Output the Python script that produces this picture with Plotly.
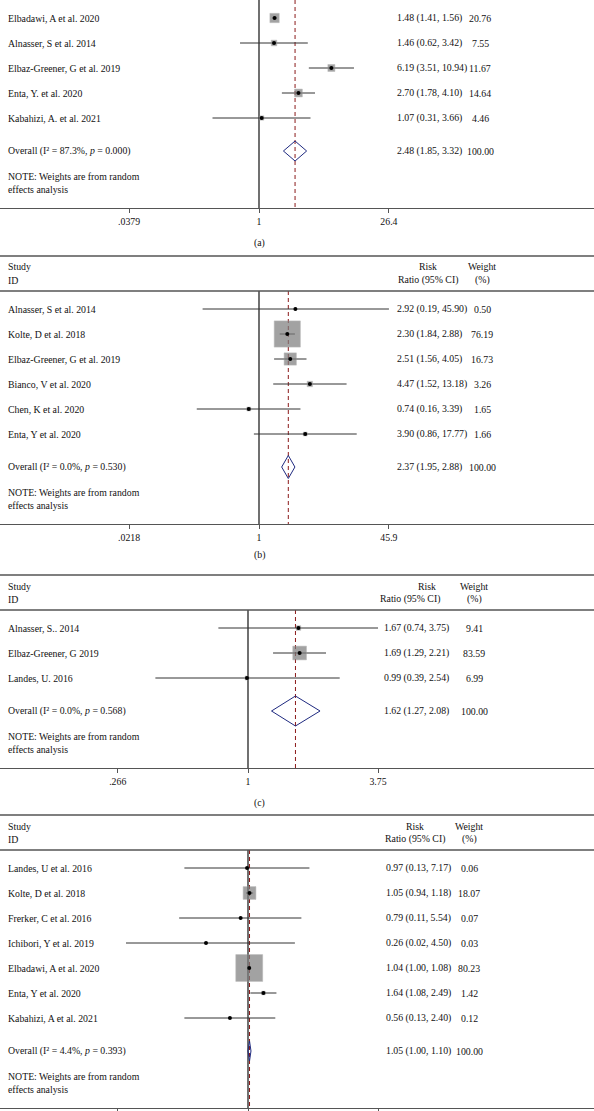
import math
import plotly.graph_objects as go

# ---------------- data ----------------
studies_a = ["Elbadawi, A et al. 2020", "Alnasser, S et al. 2014", "Elbaz-Greener, G et al. 2019",
             "Enta, Y. et al. 2020", "Kabahizi, A. et al. 2021"]
rr_a = [1.48, 1.46, 6.19, 2.70, 1.07]
lo_a = [1.41, 0.62, 3.51, 1.78, 0.31]
hi_a = [1.56, 3.42, 10.94, 4.10, 3.66]
w_a = [20.76, 7.55, 11.67, 14.64, 4.46]
overall_a = [2.48, 1.85, 3.32]
stats_a = ["87.3%", "0.000"]
ticks_a = [0.0379, 1, 26.4]
ticktext_a = [".0379", "1", "26.4"]

studies_b = ["Alnasser, S et al. 2014", "Kolte, D et al. 2018", "Elbaz-Greener, G et al. 2019",
             "Bianco, V et al. 2020", "Chen, K et al. 2020", "Enta, Y et al. 2020"]
rr_b = [2.92, 2.30, 2.51, 4.47, 0.74, 3.90]
lo_b = [0.19, 1.84, 1.56, 1.52, 0.16, 0.86]
hi_b = [45.90, 2.88, 4.05, 13.18, 3.39, 17.77]
w_b = [0.50, 76.19, 16.73, 3.26, 1.65, 1.66]
overall_b = [2.37, 1.95, 2.88]
stats_b = ["0.0%", "0.530"]
ticks_b = [0.0218, 1, 45.9]
ticktext_b = [".0218", "1", "45.9"]

studies_c = ["Alnasser, S.. 2014", "Elbaz-Greener, G 2019", "Landes, U. 2016"]
rr_c = [1.67, 1.69, 0.99]
lo_c = [0.74, 1.29, 0.39]
hi_c = [3.75, 2.21, 2.54]
w_c = [9.41, 83.59, 6.99]
overall_c = [1.62, 1.27, 2.08]
stats_c = ["0.0%", "0.568"]
ticks_c = [0.266, 1, 3.75]
ticktext_c = [".266", "1", "3.75"]

studies_d = ["Landes, U et al. 2016", "Kolte, D et al. 2018", "Frerker, C et al. 2016",
             "Ichibori, Y et al. 2019", "Elbadawi, A et al. 2020", "Enta, Y et al. 2020",
             "Kabahizi, A et al. 2021"]
rr_d = [0.97, 1.05, 0.79, 0.26, 1.04, 1.64, 0.56]
lo_d = [0.13, 0.94, 0.11, 0.02, 1.00, 1.08, 0.13]
hi_d = [7.17, 1.18, 5.54, 4.50, 1.08, 2.49, 2.40]
w_d = [0.06, 18.07, 0.07, 0.03, 80.23, 1.42, 0.12]
overall_d = [1.05, 1.00, 1.10]
stats_d = ["4.4%", "0.393"]
ticks_d = [0.015, 1, 66.7]
ticktext_d = [".015", "1", "66.7"]

captions = ["(a)", "(b)", "(c)", None]
note_lines = ["NOTE: Weights are from random", "effects analysis"]

panels = [
    dict(st=studies_a, rr=rr_a, lo=lo_a, hi=hi_a, w=w_a, ov=overall_a, stats=stats_a, tv=ticks_a, tt=ticktext_a),
    dict(st=studies_b, rr=rr_b, lo=lo_b, hi=hi_b, w=w_b, ov=overall_b, stats=stats_b, tv=ticks_b, tt=ticktext_b),
    dict(st=studies_c, rr=rr_c, lo=lo_c, hi=hi_c, w=w_c, ov=overall_c, stats=stats_c, tv=ticks_c, tt=ticktext_c),
    dict(st=studies_d, rr=rr_d, lo=lo_d, hi=hi_d, w=w_d, ov=overall_d, stats=stats_d, tv=ticks_d, tt=ticktext_d),
]

# ---------------- style / geometry ----------------
W, H = 594, 1111
ROW = 25
FONT = "Liberation Serif"
FS = 9.8
TXT = "#111111"
LINE = "#555555"
geo = [
    dict(first=18, x1=259, ppd=91.4, rr_x=395, w_x=480, risk_x=428, ratio_x=428, header=False, cap=243, box=2.05, dh=0.40, labels=True),
    dict(first=309, x1=259, ppd=78.2, rr_x=395, w_x=482, risk_x=428, ratio_x=428, header=True, cap=555, box=3.0, dh=0.46, labels=True),
    dict(first=628, x1=248, ppd=226.5, rr_x=382, w_x=474, risk_x=427, ratio_x=410, header=True, cap=803, box=1.5, dh=0.60, labels=True),
    dict(first=868, x1=248, ppd=71.8, rr_x=384, w_x=469, risk_x=415, ratio_x=415, header=True, cap=None, box=3.0, dh=0.40, labels=False),
]

fig = go.Figure()
annotations = []
shapes = []


def py(px):
    return 1 - px / H


def text(x_px, y, s, anchor="left", yref="paper"):
    annotations.append(dict(x=x_px / W, xref="paper", y=y, yref=yref, text=s, showarrow=False,
                            xanchor=anchor, yanchor="middle",
                            font=dict(family=FONT, size=FS, color=TXT)))


for k, (p, g) in enumerate(zip(panels, geo), start=1):
    xa = "x" if k == 1 else f"x{k}"
    ya = "y" if k == 1 else f"y{k}"
    n = len(p["st"])
    first = g["first"]
    axis_px = first + ROW * (n - 1) + 90
    hb = first - 18
    top_px = max(hb, 0)
    y_top = (top_px - first) / ROW
    y_bot = (axis_px - first) / ROW
    ov_row = (n - 1) + 1.32

    # axes
    fig.layout[("xaxis" if k == 1 else f"xaxis{k}")] = dict(
        type="log", domain=[0, 1], anchor=ya,
        range=[-g["x1"] / g["ppd"], (W - g["x1"]) / g["ppd"]],
        showline=True, linecolor=LINE, linewidth=1.3, ticks="outside", ticklen=4,
        tickcolor=LINE, tickwidth=1, tickvals=p["tv"], ticktext=p["tt"],
        showticklabels=g["labels"],
        tickfont=dict(family=FONT, size=FS, color=TXT), showgrid=False, zeroline=False,
        fixedrange=True)
    fig.layout[("yaxis" if k == 1 else f"yaxis{k}")] = dict(
        domain=[py(axis_px), py(top_px)], range=[y_bot, y_top], anchor=xa,
        visible=False, fixedrange=True)

    tmin, tmax = p["tv"][0], p["tv"][-1]

    # no-effect line
    fig.add_trace(go.Scatter(x=[1, 1], y=[y_top, y_bot], mode="lines", xaxis=xa, yaxis=ya,
                             line=dict(color="#111111", width=1.2), hoverinfo="skip"))
    # overall dashed line
    fig.add_trace(go.Scatter(x=[p["ov"][0]] * 2, y=[y_top, y_bot], mode="lines", xaxis=xa, yaxis=ya,
                             line=dict(color="#8B1A1A", width=1, dash="4px,3px"), hoverinfo="skip"))

    # CI lines
    cx, cy = [], []
    ax_, ay_ = [], []
    for i in range(n):
        lo = max(p["lo"][i], tmin)
        hi = min(p["hi"][i], tmax)
        cx += [lo, hi, None]
        cy += [i, i, None]
        if p["lo"][i] < tmin:
            xo = 10 ** (math.log10(tmin) + 0.085)
            ax_ += [xo, tmin, xo, None]
            ay_ += [i - 0.32, i, i + 0.32, None]
    fig.add_trace(go.Scatter(x=cx, y=cy, mode="lines", xaxis=xa, yaxis=ya,
                             line=dict(color="#333333", width=1), hoverinfo="skip"))
    if ax_:
        fig.add_trace(go.Scatter(x=ax_, y=ay_, mode="lines", xaxis=xa, yaxis=ya,
                                 line=dict(color="#333333", width=1), hoverinfo="skip"))

    # weighted boxes
    sizes = [max(g["box"] * math.sqrt(w), 1) for w in p["w"]]
    fig.add_trace(go.Scatter(x=p["rr"], y=list(range(n)), mode="markers", xaxis=xa, yaxis=ya,
                             marker=dict(symbol="square", size=sizes, color="#7c7c7c",
                                         line=dict(color="#9a9a9a", width=0.5)),
                             hoverinfo="skip"))
    fig.add_trace(go.Scatter(x=p["rr"], y=list(range(n)), mode="markers", xaxis=xa, yaxis=ya,
                             marker=dict(symbol="circle", size=4, color="#000000"), hoverinfo="skip"))

    # diamond
    est, dlo, dhi = p["ov"]
    dh = g["dh"]
    fig.add_trace(go.Scatter(x=[dlo, est, dhi, est, dlo], y=[ov_row, ov_row - dh, ov_row, ov_row + dh, ov_row],
                             mode="lines", xaxis=xa, yaxis=ya,
                             line=dict(color="#1F2A80", width=1), hoverinfo="skip"))

    # row texts
    for i in range(n):
        text(6, i, p["st"][i], "left", ya)
        text(g["rr_x"], i, f"{p['rr'][i]:.2f} ({p['lo'][i]:.2f}, {p['hi'][i]:.2f})", "left", ya)
        text(g["w_x"], i, f"{p['w'][i]:.2f}", "center", ya)
    text(6, ov_row, f"Overall (I² = {p['stats'][0]}, <i>p</i> = {p['stats'][1]})", "left", ya)
    text(g["rr_x"], ov_row, f"{est:.2f} ({dlo:.2f}, {dhi:.2f})", "left", ya)
    text(g["w_x"], ov_row, "100.00", "center", ya)
    text(6, ov_row + 1.0, note_lines[0], "left", ya)
    text(6, ov_row + 1.52, note_lines[1], "left", ya)

    # header
    if g["header"]:
        for yy in (hb - 35, hb):
            shapes.append(dict(type="line", xref="paper", yref="paper", x0=0, x1=1, y0=py(yy), y1=py(yy),
                               line=dict(color=LINE, width=1.3)))
        text(6, py(hb - 24), "Study")
        text(6, py(hb - 11), "ID")
        text(g["risk_x"], py(hb - 24), "Risk", "center")
        text(g["ratio_x"], py(hb - 11), "Ratio (95% CI)", "center")
        text(g["w_x"], py(hb - 24), "Weight", "center")
        text(g["w_x"], py(hb - 11), "(%)", "center")

    if captions[k - 1] and g["cap"]:
        text(259, py(g["cap"]), captions[k - 1], "center")

fig.update_layout(width=W, height=H, margin=dict(l=0, r=0, t=0, b=0),
                  paper_bgcolor="white", plot_bgcolor="white", showlegend=False,
                  annotations=annotations, shapes=shapes)
fig.write_html("out.html", config={"displayModeBar": False, "staticPlot": True},
               post_script="document.body.style.margin='0';document.body.style.padding='0';")
